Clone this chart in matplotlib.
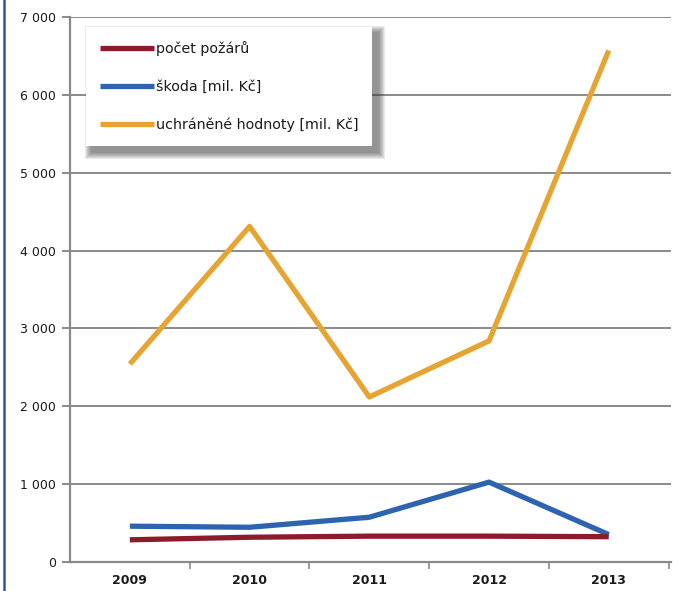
import matplotlib
matplotlib.use("Agg")
import matplotlib.pyplot as plt
from matplotlib.lines import Line2D
from matplotlib.patches import Rectangle

years = ["2009", "2010", "2011", "2012", "2013"]
pocet_pozaru = [285, 318, 332, 332, 325]
skoda = [460, 446, 575, 1026, 352]
uchranene = [2543, 4310, 2120, 2840, 6570]
yticks = [0, 1000, 2000, 3000, 4000, 5000, 6000, 7000]
ytick_labels = ["0", "1 000", "2 000", "3 000", "4 000", "5 000", "6 000", "7 000"]

plt.rcParams['font.family'] = ['DejaVu Sans']

W, H = 673, 591
fig = plt.figure(figsize=(W/100, H/100), dpi=100)
ax = fig.add_axes([70/W, 29/H, 601/W, 545/H])

x = list(range(len(years)))
lw = 3.8
l_y, = ax.plot(x, uchranene, color="#E6A432", lw=lw, solid_capstyle="butt", zorder=3,
               label="uchráněné hodnoty [mil. Kč]")
l_b, = ax.plot(x, skoda, color="#2D63AF", lw=lw, solid_capstyle="butt", zorder=4,
               label="škoda [mil. Kč]")
l_r, = ax.plot(x, pocet_pozaru, color="#8C1B2C", lw=lw, solid_capstyle="butt", zorder=5,
               label="počet požárů")

ax.set_xlim(-0.5, 4.52)
ax.set_ylim(0, 7000)
ax.set_yticks(yticks)
ax.set_yticklabels(ytick_labels)
ax.set_xticks(x)
ax.set_xticklabels(years)
ax.set_xticks([0.5, 1.5, 2.5, 3.5, 4.5], minor=True)

gray = "#8a8a8e"
ax.grid(axis="y", color=gray, lw=1.4, zorder=1)
for s in ["top", "right"]:
    ax.spines[s].set_visible(False)
for s in ["left", "bottom"]:
    ax.spines[s].set_color(gray)
    ax.spines[s].set_linewidth(1.6)
ax.tick_params(axis="y", length=6, width=1.4, color=gray, pad=4, labelsize=9, labelcolor="#1a1a1a")
ax.tick_params(axis="x", which="major", length=0, pad=9, labelsize=9, labelcolor="#1a1a1a")
ax.tick_params(axis="x", which="minor", length=5, width=1.2, color=gray)
for t in ax.get_xticklabels():
    t.set_fontweight("bold")

leg = ax.legend(handles=[l_r, l_b, l_y], loc="upper left",
                bbox_to_anchor=(16/601, 1 - 10/545), borderaxespad=0,
                fontsize=10.3, handlelength=3.8, handletextpad=0.15,
                labelspacing=1.68, borderpad=0.95, frameon=True, fancybox=False,
                shadow=False)
frame = leg.get_frame()
frame.set_edgecolor("white")
frame.set_facecolor("white")
frame.set_alpha(1)
frame.set_linewidth(0)
leg.set_zorder(10)
for t in leg.get_texts():
    t.set_color("#1a1a1a")

# soft shadow behind the legend (drawn below it)
fig.canvas.draw()
bb = leg.get_window_extent()
steps = 7
for i in range(steps):
    grow = (steps - i) * 1.0
    r = Rectangle(((bb.x0 + 6 - grow)/W, (bb.y0 - 6 - grow)/H),
                  (bb.width + 2*grow)/W, (bb.height + 2*grow)/H,
                  transform=fig.transFigure, facecolor="#3a3a3a", alpha=0.1,
                  lw=0, zorder=9, clip_on=False)
    ax.add_artist(r)

fig.add_artist(Line2D([4/W, 4/W], [0, 1], color="#2A5A98", lw=1.8))

fig.savefig("out.png", dpi=100)
